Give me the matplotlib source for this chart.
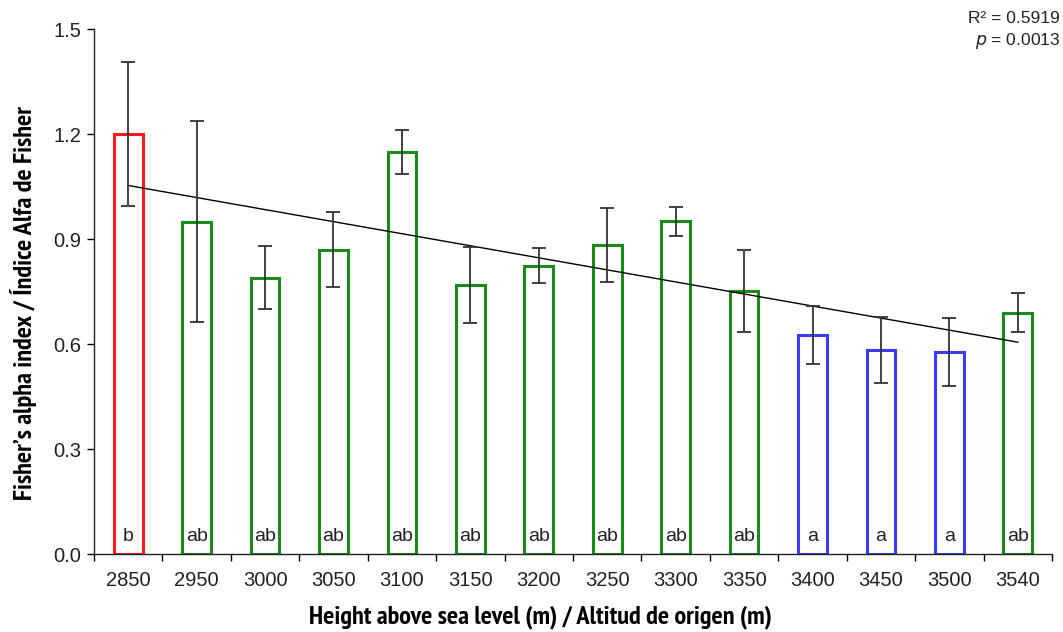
import matplotlib
matplotlib.use("Agg")
import matplotlib.pyplot as plt
import numpy as np

# --- Data ---
altitudes = ["2850", "2950", "3000", "3050", "3100", "3150", "3200",
             "3250", "3300", "3350", "3400", "3450", "3500", "3540"]
alpha_mean = [1.200, 0.949, 0.789, 0.869, 1.149, 0.769, 0.823,
              0.883, 0.951, 0.751, 0.626, 0.583, 0.577, 0.689]
alpha_err = [0.206, 0.287, 0.090, 0.107, 0.063, 0.108, 0.050,
             0.106, 0.042, 0.117, 0.082, 0.093, 0.097, 0.056]
groups = ["b", "ab", "ab", "ab", "ab", "ab", "ab",
          "ab", "ab", "ab", "a", "a", "a", "ab"]
r2_text = "R\u00b2 = 0.5919"
p_value = "0.0013"

GROUP_COLORS = {"b": "#ff1a1a", "ab": "#1a8a1a", "a": "#3b3bff"}

plt.rcParams['font.family'] = ['Liberation Sans', 'DejaVu Sans']

fig = plt.figure(figsize=(10.63, 6.32), dpi=100)
ax = fig.add_axes([0.0884, 0.1234, 0.9013, 0.8306])

x = np.arange(len(altitudes))
colors = [GROUP_COLORS[g] for g in groups]

ax.bar(x, alpha_mean, width=0.42, facecolor="white", edgecolor=colors,
       linewidth=2.2, zorder=2)
ax.errorbar(x, alpha_mean, yerr=alpha_err, fmt="none", ecolor="#333333",
            elinewidth=1.3, capsize=5, capthick=1.3, zorder=4)

# linear trend over the bar means
slope, intercept = np.polyfit(x, alpha_mean, 1)
ax.plot(x, slope * x + intercept, color="black", linewidth=1.0, zorder=3)

for xi, g in zip(x, groups):
    ax.text(xi, 0.025, g, ha="center", va="bottom", fontsize=14,
            color="#222222", zorder=5)

ax.set_xlim(-0.5, len(altitudes) - 0.5)
ax.set_ylim(0, 1.5)
ax.set_yticks([0.0, 0.3, 0.6, 0.9, 1.2, 1.5])
ax.set_yticklabels(["0.0", "0.3", "0.6", "0.9", "1.2", "1.5"])
ax.set_xticks(x)
ax.set_xticklabels(altitudes)
ax.set_xticks(np.arange(-0.5, len(altitudes), 1.0), minor=True)
ax.tick_params(axis="x", which="major", length=0, pad=12, labelsize=14.5,
               labelcolor="#222222")
ax.tick_params(axis="x", which="minor", length=5, width=1, direction="out")
ax.tick_params(axis="y", length=5, width=1, direction="out", labelsize=14.5,
               labelcolor="#222222", pad=4)

for side in ["top", "right"]:
    ax.spines[side].set_visible(False)
for side in ["left", "bottom"]:
    ax.spines[side].set_linewidth(1.0)
    ax.spines[side].set_color("#222222")

label_font = dict(family=['PT Sans Narrow', 'Liberation Sans', 'DejaVu Sans'],
                  fontweight="bold", fontsize=19, color="black")
ax.set_xlabel("Height above sea level (m) / Altitud de origen (m)",
              labelpad=11, **label_font)
ax.set_ylabel("Fisher\u2019s alpha index / \u00cdndice Alfa de Fisher",
              labelpad=12, **label_font)
# labels sit a little off the axes centre in the reference
ax.xaxis.label.set_x(0.4656)
ax.yaxis.label.set_y(0.478)

fig.text(0.997, 0.971, r2_text, ha="right", va="center", fontsize=12.5,
         color="#222222")
fig.text(0.997, 0.935, r"$p$ = " + p_value, ha="right", va="center",
         fontsize=12.5, color="#222222")

fig.savefig("out.png", dpi=100)
